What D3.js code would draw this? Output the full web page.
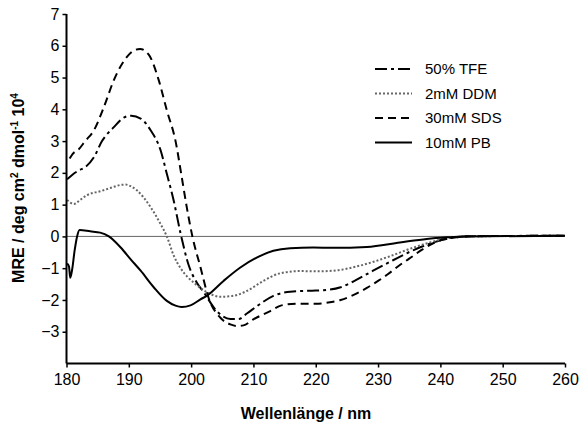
<!DOCTYPE html>
<html>
<head>
<meta charset="utf-8">
<script src="https://cdn.jsdelivr.net/npm/d3@7"></script>
<style>
  html, body { margin: 0; padding: 0; background: #fff; }
  svg { display: block; font-family: "Liberation Sans", Arial, sans-serif; }
</style>
</head>
<body>
<svg id="chart" width="584" height="423"></svg>
<script>
// CD spectra: wavelength (nm) vs mean residue ellipticity (x10^4)
const seriesNames = ["50% TFE", "2mM DDM", "30mM SDS", "10mM PB"];

const tfe = [
  [180.1, 1.8], [181, 1.95], [182, 2.08], [183, 2.18], [184.4, 2.49], [185.7, 3.0],
  [187.6, 3.44], [189.2, 3.74], [190.4, 3.8], [191.9, 3.71], [193.5, 3.34], [195.1, 2.71],
  [196.1, 1.97], [197.2, 1.13], [198.3, 0.1], [199.6, -0.9], [200.9, -1.45], [202, -1.75],
  [204.1, -2.35], [206.3, -2.6], [207.6, -2.6], [209, -2.42], [210.6, -2.19], [213.2, -1.87],
  [215.9, -1.74], [219, -1.71], [222, -1.68], [224, -1.6], [226, -1.42], [229.2, -1.08],
  [232.4, -0.75], [235.7, -0.43], [238.9, -0.19], [241, -0.07], [243, -0.02], [246, 0.01],
  [260, 0.02]
];

const ddm = [
  [180.1, 1.15], [181.2, 1.02], [182.2, 1.15], [183.3, 1.3], [185.4, 1.42], [187, 1.52],
  [188.7, 1.62], [189.5, 1.63], [190.3, 1.58], [191.3, 1.45], [192.4, 1.22], [193.5, 0.92],
  [195.1, 0.39], [196.1, 0], [197.2, -0.6], [198.3, -1.0], [199.3, -1.25], [200.4, -1.45],
  [202.5, -1.75], [204.7, -1.9], [206.8, -1.87], [209, -1.71], [211.6, -1.4], [214.3, -1.16],
  [217.5, -1.09], [220, -1.1], [222.8, -1.08], [227.1, -0.92], [231.4, -0.66], [235.7, -0.35],
  [238.9, -0.16], [241, -0.06], [244, 0], [260, 0.02]
];

const sds = [
  [180.5, 2.45], [181, 2.6], [182, 2.75], [183, 3.0], [184.4, 3.34], [186, 4.07],
  [187.6, 4.92], [189.7, 5.65], [191, 5.87], [191.8, 5.9], [193.2, 5.72], [194.8, 4.92],
  [196.1, 3.97], [197.5, 3.0], [198.5, 1.86], [199.3, 0.92], [200.2, 0], [201.5, -0.97],
  [202.8, -1.93], [204.7, -2.56], [206.3, -2.77], [207.3, -2.82], [208.4, -2.8], [210, -2.61],
  [212.7, -2.35], [214.5, -2.17], [217, -2.12], [220, -2.12], [222, -2.08], [224, -2.0],
  [226, -1.85], [228.2, -1.62], [230, -1.4], [231.5, -1.2], [233.5, -0.9], [235, -0.7],
  [237.2, -0.4], [239, -0.2], [240.5, -0.1], [242, -0.04], [244, 0], [248, 0.01], [260, 0.02]
];

const pb = [
  [180.1, -0.85], [180.4, -0.95], [180.6, -1.3], [180.9, -1.05], [181.3, -0.45], [181.7, 0],
  [182.1, 0.2], [183.8, 0.16], [185.4, 0.12], [186.8, 0], [188.7, -0.35], [190.3, -0.72],
  [191.9, -1.08], [194, -1.6], [196.1, -2.03], [197.5, -2.18], [198.5, -2.22], [199.9, -2.17],
  [201.5, -1.98], [202.5, -1.87], [205.2, -1.4], [207.9, -0.98], [210.6, -0.66], [213.2, -0.45],
  [215.9, -0.37], [219.6, -0.35], [222.8, -0.36], [228.2, -0.33], [233.5, -0.19], [237.8, -0.08],
  [241, -0.03], [244, 0], [260, 0.02]
];

const xTicks = [180, 190, 200, 210, 220, 230, 240, 250, 260];
const yTicks = [-3, -2, -1, 0, 1, 2, 3, 4, 5, 6, 7];

const series = [
  { name: seriesNames[0], data: tfe, color: "#000", dash: "12,4,3,4", width: 2 },
  { name: seriesNames[1], data: ddm, color: "#666", dash: "2,2", width: 2 },
  { name: seriesNames[2], data: sds, color: "#000", dash: "8,5", width: 2 },
  { name: seriesNames[3], data: pb, color: "#000", dash: null, width: 2 }
];

const svg = d3.select("#chart");
const x = d3.scaleLinear().domain([180, 260]).range([66.5, 565]);
const y = d3.scaleLinear().domain([-4, 7]).range([363.5, 14]);

// zero line
svg.append("line")
  .attr("x1", x(180)).attr("x2", x(260))
  .attr("y1", y(0)).attr("y2", y(0))
  .attr("stroke", "#666").attr("stroke-width", 1);

const line = d3.line()
  .x(d => x(d[0])).y(d => y(d[1]))
  .curve(d3.curveMonotoneX);

svg.append("g").selectAll("path")
  .data(series).join("path")
  .attr("d", d => line(d.data))
  .attr("fill", "none")
  .attr("stroke", d => d.color)
  .attr("stroke-width", d => d.width)
  .attr("stroke-dasharray", d => d.dash);

// axes
const xAxis = svg.append("g")
  .attr("transform", `translate(0,${y(-4)})`)
  .call(d3.axisBottom(x).tickValues(xTicks).tickSize(4).tickPadding(6).tickFormat(d3.format("d")));
const yAxis = svg.append("g")
  .attr("transform", `translate(${x(180)},0)`)
  .call(d3.axisLeft(y).tickValues(yTicks).tickSize(4).tickPadding(3).tickFormat(d3.format("d")));

[xAxis, yAxis].forEach(g => {
  g.select(".domain").attr("stroke", "#000").attr("stroke-width", 2);
  g.selectAll(".tick line").attr("stroke", "#000").attr("stroke-width", 1.5);
  g.selectAll(".tick text")
    .attr("fill", "#000")
    .style("font-family", "'Liberation Sans', Arial, sans-serif")
    .style("font-size", "16px");
});
// replace the y-axis domain path so it has no end caps
yAxis.select(".domain").attr("d", `M0,${y(7)}V${y(-4)}`);
xAxis.select(".domain").attr("d", `M${x(180)},0H${x(260)}`);

// axis titles
svg.append("text")
  .attr("x", 306).attr("y", 419)
  .attr("text-anchor", "middle")
  .style("font-size", "16px").style("font-weight", "bold")
  .text("Wellenlänge / nm");

const yTitle = svg.append("text")
  .attr("transform", "translate(24,188) rotate(-90)")
  .attr("text-anchor", "middle")
  .style("font-size", "16px").style("font-weight", "bold");
yTitle.append("tspan").text("MRE / deg cm");
yTitle.append("tspan").attr("dy", -6).style("font-size", "10px").text("2");
yTitle.append("tspan").attr("dy", 6).text(" dmol");
yTitle.append("tspan").attr("dy", -6).style("font-size", "10px").text("-1");
yTitle.append("tspan").attr("dy", 6).text(" 10");
yTitle.append("tspan").attr("dy", -6).style("font-size", "10px").text("4");

// legend
const legendRows = [69, 93.5, 118, 142.5];
const legend = svg.append("g").selectAll("g")
  .data(series).join("g")
  .attr("transform", (d, i) => `translate(0,${legendRows[i]})`);
legend.append("line")
  .attr("x1", 375).attr("x2", 412)
  .attr("stroke", d => d.color)
  .attr("stroke-width", d => d.width)
  .attr("stroke-dasharray", d => d.dash);
legend.append("text")
  .attr("x", 425).attr("y", 5)
  .style("font-size", "15px")
  .text(d => d.name);
</script>
</body>
</html>
